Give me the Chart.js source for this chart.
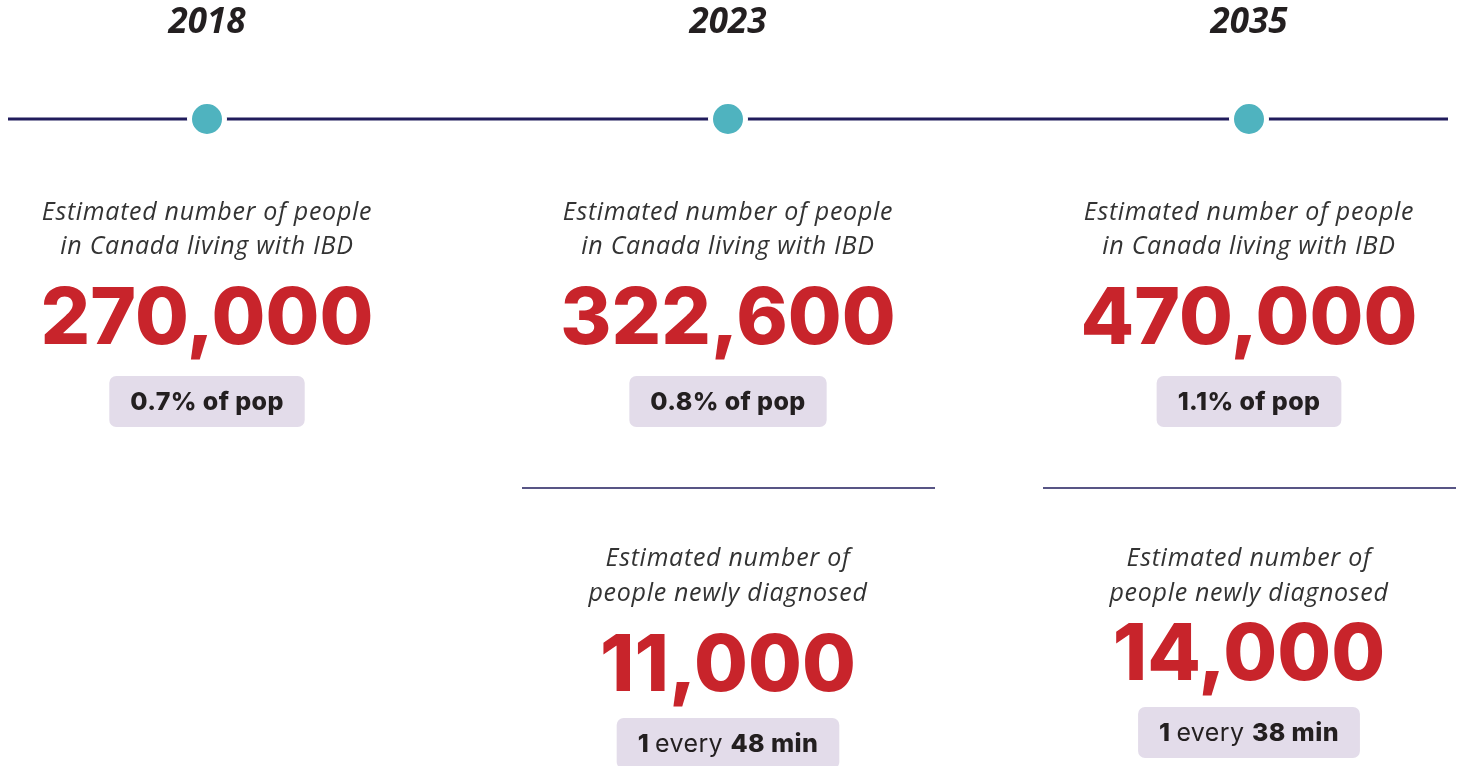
<!DOCTYPE html>
<html>

<head>
    <title>IBD em Canada - linha do tempo</title>
    <script src="https://cdn.jsdelivr.net/npm/chart.js@4.4.2/dist/chart.umd.min.js"></script>
    <style>
        body {
            margin: 0;
            background: #ffffff;
            overflow: hidden;
        }

        .chartBox {
            width: 1461px;
            height: 766px;
        }
    </style>
</head>

<body>
    <div class="chartBox">
        <canvas id="timelineChart" width="1461" height="766"></canvas>
    </div>
    <script>
        // dados
        const years = ['2018', '2023', '2035'];
        const prevalence = [270000, 322600, 470000];
        const popShare = [0.7, 0.8, 1.1];
        const newCases = [null, 11000, 14000];
        const everyMinutes = [null, 48, 38];
        const labelPrev = ['Estimated number of people', 'in Canada living with IBD'];
        const labelNew = ['Estimated number of', 'people newly diagnosed'];

        const NAVY = '#211c5c';
        const RED = '#c8242b';
        const INK = '#231f20';
        const PILL = '#e3dcea';
        const ITALIC = 'italic 400 25px "Open Sans"';

        function fmt(n) {
            return n.toLocaleString('en-US');
        }

        function texto(ctx, str, x, y, font, color, spacing) {
            ctx.font = font;
            ctx.letterSpacing = (spacing || 0) + 'px';
            ctx.fillStyle = color;
            ctx.textAlign = 'center';
            ctx.textBaseline = 'middle';
            ctx.fillText(str, x, y);
            ctx.letterSpacing = '0px';
        }

        // pedaços com pesos diferentes, centrados em x
        function textoMisto(ctx, parts, x, y, size, color) {
            const total = larguraMista(ctx, parts, size);
            let px = x - total / 2;
            ctx.fillStyle = color;
            ctx.textAlign = 'left';
            ctx.textBaseline = 'middle';
            ctx.letterSpacing = '0.4px';
            parts.forEach(p => {
                ctx.font = p.w + ' ' + size + 'px Inter';
                ctx.fillText(p.t, px, y);
                px += ctx.measureText(p.t).width;
            });
            ctx.letterSpacing = '0px';
            return total;
        }

        function larguraMista(ctx, parts, size) {
            let total = 0;
            ctx.letterSpacing = '0.4px';
            parts.forEach(p => {
                ctx.font = p.w + ' ' + size + 'px Inter';
                total += ctx.measureText(p.t).width;
            });
            ctx.letterSpacing = '0px';
            return total;
        }

        function pilula(ctx, cx, top, w, h) {
            ctx.fillStyle = PILL;
            ctx.beginPath();
            ctx.roundRect(cx - w / 2, top, w, h, 7);
            ctx.fill();
        }

        const linhaPlugin = {
            id: 'linhaExtra',
            beforeDatasetsDraw(chart) {
                const ctx = chart.ctx;
                const a = chart.chartArea;
                const y0 = chart.scales.y.getPixelForValue(0);
                ctx.save();
                ctx.strokeStyle = NAVY;
                ctx.lineWidth = 3;
                ctx.beginPath();
                ctx.moveTo(a.left - 199, y0);
                ctx.lineTo(a.left, y0);
                ctx.moveTo(a.right, y0);
                ctx.lineTo(a.right + 199, y0);
                ctx.stroke();
                ctx.restore();
            }
        };

        const infoPlugin = {
            id: 'info',
            afterDraw(chart) {
                const ctx = chart.ctx;
                const xs = chart.scales.x;
                const y0 = chart.scales.y.getPixelForValue(0);
                ctx.save();
                years.forEach((yr, i) => {
                    const cx = xs.getPixelForValue(i);
                    texto(ctx, yr, cx, y0 - 96, 'italic 700 35px "Open Sans"', INK);

                    texto(ctx, labelPrev[0], cx, y0 + 94, ITALIC, '#333333', 0.7);
                    texto(ctx, labelPrev[1], cx, y0 + 128, ITALIC, '#333333', 0.7);
                    texto(ctx, fmt(prevalence[i]), cx, y0 + 202, '800 78px Inter', RED);

                    const pp = [{ t: popShare[i].toFixed(1) + '% of pop', w: '800' }];
                    const w1 = larguraMista(ctx, pp, 25);
                    pilula(ctx, cx, y0 + 257, w1 + 42, 51);
                    textoMisto(ctx, pp, cx, y0 + 283, 25, INK);

                    if (newCases[i] !== null) {
                        const up = i === 2 ? -11 : 0;
                        ctx.strokeStyle = NAVY;
                        ctx.lineWidth = 1.5;
                        ctx.beginPath();
                        ctx.moveTo(cx - 206, y0 + 369);
                        ctx.lineTo(cx + 207, y0 + 369);
                        ctx.stroke();

                        texto(ctx, labelNew[0], cx, y0 + 440, ITALIC, '#333333', 0.7);
                        texto(ctx, labelNew[1], cx, y0 + 475, ITALIC, '#333333', 0.7);
                        texto(ctx, fmt(newCases[i]), cx, y0 + 549 + up, '800 78px Inter', RED);

                        const ev = [
                            { t: '1 ', w: '800' },
                            { t: 'every ', w: '400' },
                            { t: everyMinutes[i] + ' min', w: '800' }
                        ];
                        const w2 = larguraMista(ctx, ev, 25);
                        pilula(ctx, cx, y0 + 599 + up, w2 + 42, 51);
                        textoMisto(ctx, ev, cx, y0 + 625 + up, 25, INK);
                    }
                });
                ctx.restore();
            }
        };

        const ctx = document.getElementById('timelineChart').getContext('2d');
        const timelineChart = new Chart(ctx, {
            type: 'line',
            data: {
                labels: years,
                datasets: [{
                    data: years.map(() => 0),
                    borderColor: NAVY,
                    borderWidth: 3,
                    pointRadius: 17.5,
                    pointHoverRadius: 17.5,
                    pointBackgroundColor: '#4fb3bf',
                    pointBorderColor: '#ffffff',
                    pointBorderWidth: 5,
                    pointHoverBorderWidth: 5
                }]
            },
            options: {
                responsive: false,
                animation: false,
                events: [],
                layout: {
                    padding: { left: 207, right: 212, top: 100, bottom: 628 }
                },
                plugins: {
                    legend: { display: false },
                    tooltip: { enabled: false }
                },
                scales: {
                    x: { display: false, offset: false },
                    y: { display: false, min: -1, max: 1 }
                }
            },
            plugins: [linhaPlugin, infoPlugin]
        });
    </script>
</body>

</html>
